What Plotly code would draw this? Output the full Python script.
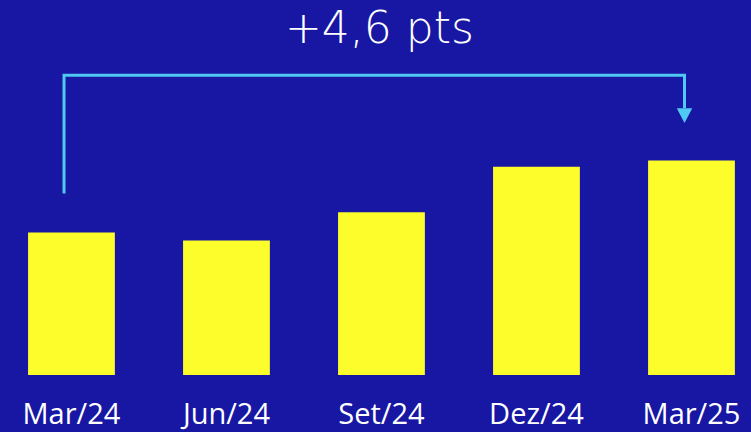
import plotly.graph_objects as go

categories = ["Mar/24", "Jun/24", "Set/24", "Dez/24", "Mar/25"]
values = [9.1, 8.6, 10.4, 13.3, 13.7]
delta_label = "+4,6 pts"

BG = "#1717A3"
BAR = "#FDFD2B"
LINE = "#4FC8F2"

idx = list(range(len(categories)))
fig = go.Figure(go.Bar(x=idx, y=values, marker=dict(color=BAR, line=dict(width=0)),
                       width=0.56, hoverinfo="skip"))

x0 = idx[0] - 0.048
x1 = idx[-1] - 0.045
y_start = values[0] + 2.5
y_top = max(values) + 5.45
y_tip = values[-1] + 2.4
head_h = 0.95
head_w = 0.05

fig.add_shape(type="path",
              path=f"M {x0} {y_start} L {x0} {y_top} L {x1} {y_top} L {x1} {y_tip + head_h}",
              line=dict(color=LINE, width=3), layer="above")
fig.add_shape(type="path",
              path=f"M {x1 - head_w} {y_tip + head_h} L {x1 + head_w} {y_tip + head_h} L {x1} {y_tip} Z",
              line=dict(color=LINE, width=0), fillcolor=LINE, layer="above")

fig.add_annotation(text=delta_label, xref="paper", yref="paper", x=0.505, y=1.0,
                   yanchor="top", xanchor="center", showarrow=False, yshift=0,
                   font=dict(family="DejaVu Sans", size=44, color="white", weight=200))

fig.update_layout(
    width=751, height=432,
    margin=dict(l=0, r=0, t=0, b=57, autoexpand=False),
    paper_bgcolor=BG, plot_bgcolor=BG,
    showlegend=False,
    xaxis=dict(range=[-0.461, 4.384], tickvals=idx, ticktext=categories,
               showgrid=False, zeroline=False, showline=False, automargin=False,
               ticks="outside", ticklen=13, tickcolor="rgba(0,0,0,0)",
               tickfont=dict(family="Open Sans", size=29, color="white")),
    yaxis=dict(range=[0, 23.96], visible=False, showgrid=False, zeroline=False,
               automargin=False),
)

fig.write_html("out.html", config={"displayModeBar": False, "staticPlot": True},
               post_script="document.body.style.margin='0';document.body.style.background='" + BG + "';")
